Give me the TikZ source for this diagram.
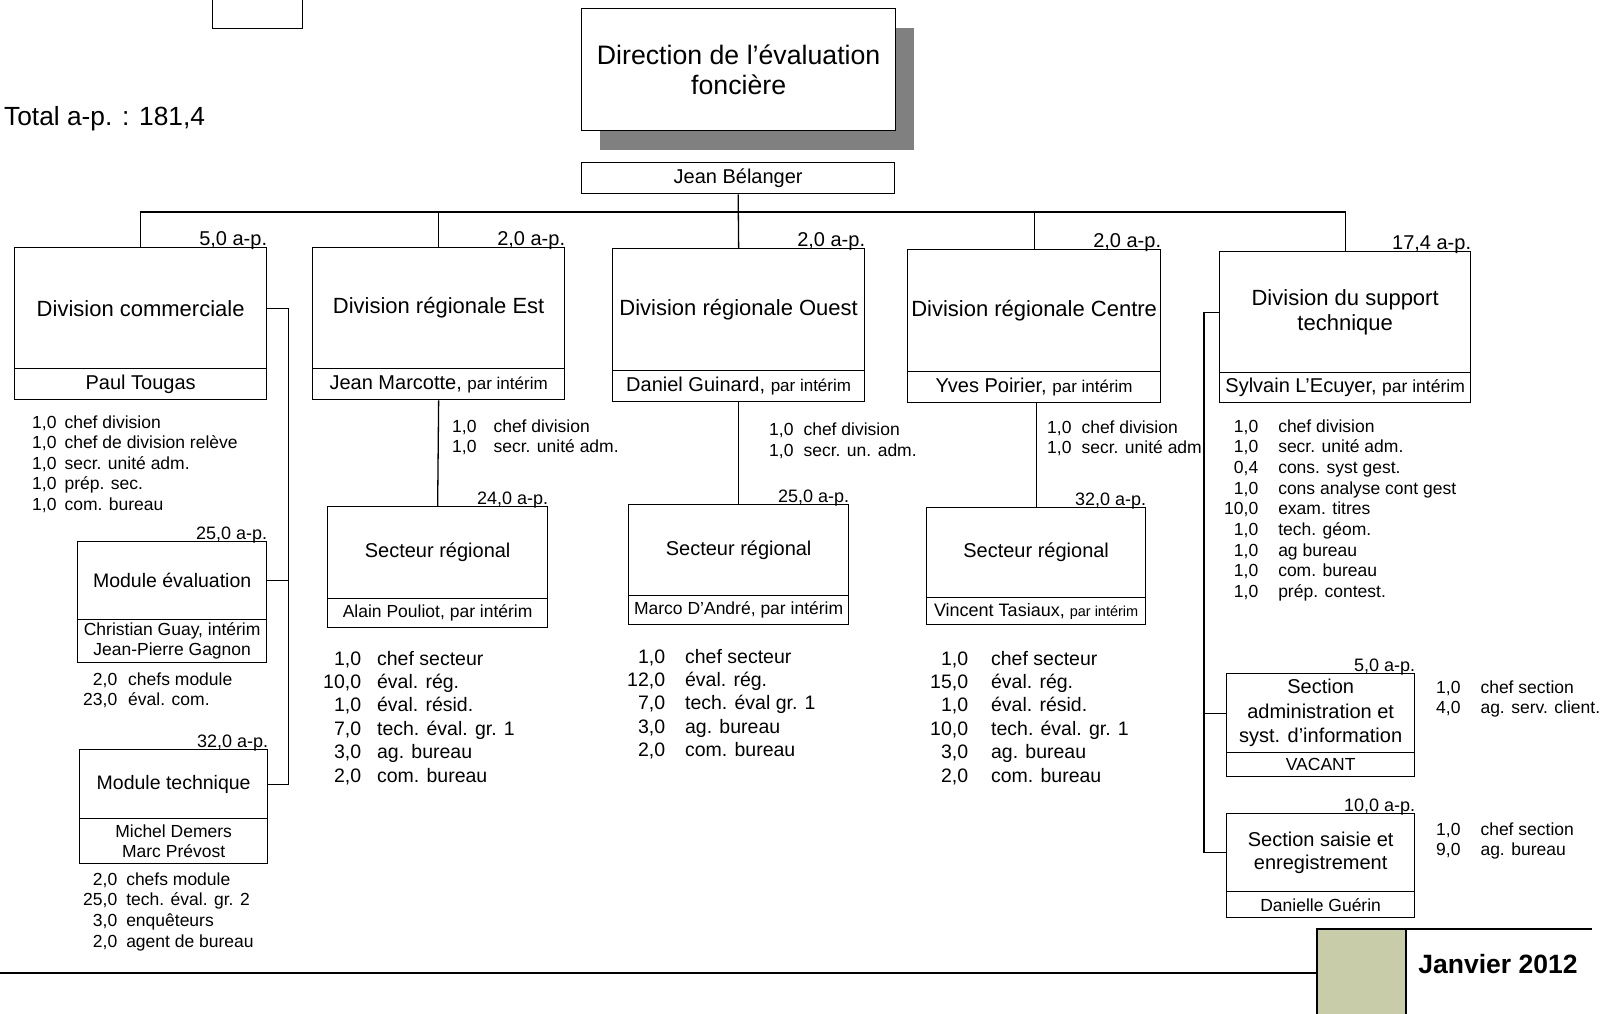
\documentclass[tikz,border=0pt]{standalone}
\usepackage{fontspec}
\setmainfont{Liberation Sans}
\newcommand\fs[2]{\fontsize{#1}{#2}\selectfont}
\newcommand\stafflist[2]{\begin{tabular}[t]{@{}r@{\hspace{#1pt}}l@{}}#2\end{tabular}}
\definecolor{shadowgray}{RGB}{128,128,128}
\definecolor{footgreen}{RGB}{200,204,168}
\tikzset{
  ubox/.style 2 args={draw, line width=1.3pt, inner sep=0pt, minimum width=#1, minimum height=#2, anchor=north west, align=center},
  aplabel/.style={anchor=base east, inner sep=0pt, font=\fs{20}{24}},
  apsmall/.style={anchor=base east, inner sep=0pt, font=\fs{18}{22}},
  stf/.style={anchor=base west, inner sep=0pt},
  conn/.style={line width=1.3pt},
  divtitle/.style={font=\fs{22}{25}},
}
\begin{document}
\begin{tikzpicture}[x=1pt,y=-1pt]
\useasboundingbox (0,0) rectangle (1610,1013);
\fill[white] (0,0) rectangle (1610,1013);

% small top box
\node[ubox={90}{31}] (topbox) at (212,-3) {};

% total
\node[anchor=base west, inner sep=0pt, font=\fs{26.3}{30}] (total) at (4,125) {Total a-p. : 181,4};

% Direction
\fill[shadowgray] (600,28) rectangle (914,150);
\node[ubox={314}{122}, fill=white, font=\fs{26.7}{30.5}] (dir) at (581,8) {Direction de l’évaluation\\foncière};
\node[ubox={313}{31}, font=\fs{20}{24}] (jb) at (581,162) {Jean Bélanger};

% Divisions
\node[ubox={252}{121}, divtitle] (dc) at (14,247) {Division commerciale};
\node[ubox={252}{31}, font=\fs{20}{24}] (dcn) at (14,368) {Paul Tougas};
\node[aplabel] (dcap) at ([yshift=2pt]dc.north east) {5,0 a-p.};

\node[ubox={252}{121}, divtitle] (est) at (312,247) {Division régionale Est};
\node[ubox={252}{31}] (estn) at (312,368) {\fs{20}{24}Jean Marcotte, {\fs{17}{20}par intérim}};
\node[aplabel] (estap) at ([yshift=2pt]est.north east) {2,0 a-p.};

\node[ubox={252}{122}, divtitle] (ouest) at (612,248) {Division régionale Ouest};
\node[ubox={252}{31}] (ouestn) at (612,370) {\fs{20}{24}Daniel Guinard, {\fs{17}{20}par intérim}};
\node[aplabel] (ouestap) at ([yshift=2pt]ouest.north east) {2,0 a-p.};

\node[ubox={253}{122}, divtitle] (centre) at (907,249) {Division régionale Centre};
\node[ubox={253}{31}] (centren) at (907,371) {\fs{20}{24}Yves Poirier, {\fs{17}{20}par intérim}};
\node[aplabel] (centreap) at ([yshift=2pt]centre.north east) {2,0 a-p.};

\node[ubox={251}{121}, divtitle] (sup) at (1219,251) {Division du support\\technique};
\node[ubox={251}{30}] (supn) at (1219,372) {\fs{20}{24}Sylvain L’Ecuyer, {\fs{17.5}{20}par intérim}};
\node[aplabel] (supap) at ([yshift=2pt]sup.north east) {17,4 a-p.};

% bus
\coordinate (busy) at (0,212);
\draw[conn] (jb.south) -- (ouest.north);
\draw[conn] (dc.north) |- (busy -| sup.north) -- (sup.north);
\draw[conn] (est.north) -- (est.north |- busy);
\draw[conn] (centre.north) -- (centre.north |- busy);

% Commercial modules
\node[ubox={189}{78}, font=\fs{19.5}{23}] (me) at (77,541) {Module évaluation};
\node[ubox={189}{43}, font=\fs{17.5}{20}] (men) at (77,619) {Christian Guay, intérim\\Jean-Pierre Gagnon};
\node[apsmall] (meap) at ([yshift=2pt]me.north east) {25,0 a-p.};

\node[ubox={188}{69}, font=\fs{19.5}{23}] (mt) at (79,749) {Module technique};
\node[ubox={188}{45}, font=\fs{17.5}{20}] (mtn) at (79,818) {Michel Demers\\Marc Prévost};
\node[apsmall] (mtap) at ([yshift=2pt]mt.north east) {32,0 a-p.};

\draw[conn] (dc.east) -- ++(21,0) |- (mt.east);
\draw[conn] (me.east) -- (me.east -| mt.east) -- ++(20,0);

% Secteurs
\node[ubox={220}{92}, font=\fs{20}{24}] (esec) at (327,506) {Secteur régional};
\node[ubox={220}{29}, font=\fs{17.5}{20}] (esecn) at (327,598) {Alain Pouliot, par intérim};
\node[apsmall] (esecap) at ([yshift=2pt]esec.north east) {24,0 a-p.};

\node[ubox={220}{91}, font=\fs{20}{24}] (osec) at (628,504) {Secteur régional};
\node[ubox={220}{29}, font=\fs{17.5}{20}] (osecn) at (628,595) {Marco D’André, par intérim};
\node[apsmall] (osecap) at ([yshift=2pt]osec.north east) {25,0 a-p.};

\node[ubox={219}{90}, font=\fs{20}{24}] (csec) at (926,507) {Secteur régional};
\node[ubox={219}{27}] (csecn) at (926,597) {\fs{18}{20}Vincent Tasiaux, {\fs{14.5}{18}par intérim}};
\node[apsmall] (csecap) at ([yshift=2pt]csec.north east) {32,0 a-p.};

\draw[conn] (estn.south) -- (esec.north);
\draw[conn] (ouestn.south) -- (osec.north);
\draw[conn] (csec.north) -- (csec.north |- centren.south);

% Sections
\node[ubox={188}{79}, font=\fs{20}{24.5}] (sadm) at (1226,673) {Section\\administration et\\syst. d’information};
\node[ubox={188}{24}, font=\fs{17.5}{20}] (sadmn) at (1226,752) {VACANT};
\node[apsmall] (sadmap) at ([yshift=2pt]sadm.north east) {5,0 a-p.};

\node[ubox={188}{78}, font=\fs{20}{22.5}] (ssai) at (1226,813) {Section saisie et\\enregistrement};
\node[ubox={188}{26}, font=\fs{17.5}{20}] (ssain) at (1226,891) {Danielle Guérin};
\node[apsmall] (ssaiap) at ([yshift=2pt]ssai.north east) {10,0 a-p.};

\draw[conn] (sup.west) -- ++(-15,0) coordinate (supbend) |- (ssai.west);
\draw[conn] (supbend |- sadm.west) -- (sadm.west);

% Staff lists
\node[stf] (ldc) at (32,428) {\fs{17.5}{20.5}\stafflist{8}{1,0 & chef division\\1,0 & chef de division relève\\1,0 & secr. unité adm.\\1,0 & prép. sec.\\1,0 & com. bureau}};
\node[stf] (lest) at (452,432) {\fs{17.5}{20}\stafflist{17}{1,0 & chef division\\1,0 & secr. unité adm.}};
\node[stf] (louest) at (769,435) {\fs{17.5}{21}\stafflist{10}{1,0 & chef division\\1,0 & secr. un. adm.}};
\node[stf] (lcentre) at (1047,433) {\fs{17.5}{20}\stafflist{10}{1,0 & chef division\\1,0 & secr. unité adm.}};
\node[stf] (lsup) at (1224,432) {\fs{17.5}{20.7}\stafflist{20}{1,0 & chef division\\1,0 & secr. unité adm.\\0,4 & cons. syst gest.\\1,0 & cons analyse cont gest\\10,0 & exam. titres\\1,0 & tech. géom.\\1,0 & ag bureau\\1,0 & com. bureau\\1,0 & prép. contest.}};
\node[stf] (lsadm) at (1436,693) {\fs{17.5}{20}\stafflist{20}{1,0 & chef section\\4,0 & ag. serv. client.}};
\node[stf] (lssai) at (1436,835) {\fs{17.5}{20}\stafflist{20}{1,0 & chef section\\9,0 & ag. bureau}};
\node[stf] (lesec) at (323,665) {\fs{19.5}{23.4}\stafflist{16}{1,0 & chef secteur\\10,0 & éval. rég.\\1,0 & éval. résid.\\7,0 & tech. éval. gr. 1\\3,0 & ag. bureau\\2,0 & com. bureau}};
\node[stf] (losec) at (627,663) {\fs{19.5}{23.4}\stafflist{20}{1,0 & chef secteur\\12,0 & éval. rég.\\7,0 & tech. éval gr. 1\\3,0 & ag. bureau\\2,0 & com. bureau}};
\node[stf] (lcsec) at (930,665) {\fs{19.5}{23.4}\stafflist{23}{1,0 & chef secteur\\15,0 & éval. rég.\\1,0 & éval. résid.\\10,0 & tech. éval. gr. 1\\3,0 & ag. bureau\\2,0 & com. bureau}};
\node[stf] (lme) at (83,685) {\fs{17.5}{20}\stafflist{11}{2,0 & chefs module\\23,0 & éval. com.}};
\node[stf] (lmt) at (83,885) {\fs{17.5}{20.7}\stafflist{9}{2,0 & chefs module\\25,0 & tech. éval. gr. 2\\3,0 & enquêteurs\\2,0 & agent de bureau}};

% Footer
\draw[line width=1.3pt] (0,973) -- (1317,973);
\fill[footgreen] (1317,929) rectangle (1406,1015);
\draw[line width=1.3pt] (1317,1015) -- (1317,929) -- (1406,929) -- (1406,1015);
\draw[line width=1.3pt] (1406,929) -- (1592,929);
\node[inner sep=0pt, font=\bfseries\fs{26.5}{30}] (date) at (1498,964) {Janvier 2012};
\end{tikzpicture}
\end{document}
